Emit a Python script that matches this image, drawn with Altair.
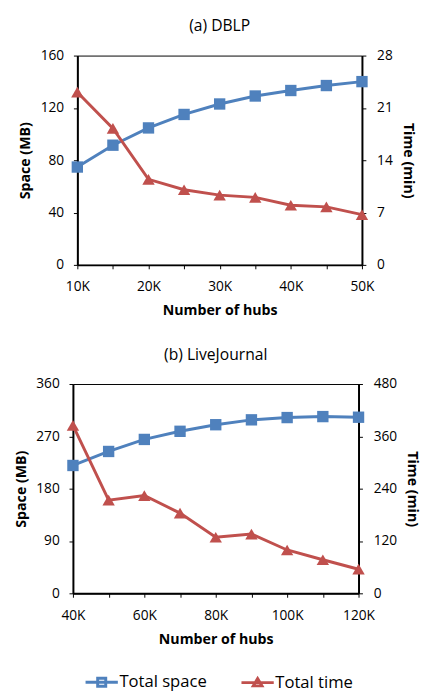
import altair as alt
import pandas as pd

BLUE = "#4F81BD"
RED = "#C0504D"
FONT = "Open Sans"

series_names = ["Total space", "Total time"]

# (a) DBLP
hubs_a = [10000, 15000, 20000, 25000, 30000, 35000, 40000, 45000, 50000]
space_a = [74.8, 91.5, 104.7, 115.0, 123.0, 129.1, 133.3, 137.1, 140.1]
time_a = [23.1, 18.25, 11.45, 10.05, 9.33, 9.03, 7.98, 7.76, 6.72]

# (b) LiveJournal
hubs_b = [40000, 50000, 60000, 70000, 80000, 90000, 100000, 110000, 120000]
space_b = [219.9, 244.0, 264.7, 278.7, 290.0, 298.4, 302.3, 304.0, 302.9]
time_b = [385, 213.8, 224.3, 184, 128.6, 136, 99.4, 77, 55.3]

SQ_PATH = "M-3,0H3M-0.75,-0.75H0.75V0.75H-0.75Z"
TRI_PATH = "M-3,0H3M0,-0.75L0.8,0.6H-0.8Z"


def panel(title, hubs, space, time, xstep, xlabel_every, space_max, space_step,
          time_max, time_step, title_offset, width, extra=None):
    df = pd.DataFrame({"hubs": hubs, "space": space, "time": time})
    xvals = list(range(hubs[0], hubs[-1] + 1, xstep))
    label_expr = (
        f"datum.value % {xlabel_every} == 0 ? "
        "format(datum.value / 1000, 'd') + 'K' : ''"
    )
    x = alt.X(
        "hubs:Q",
        scale=alt.Scale(domain=[hubs[0], hubs[-1]], nice=False, zero=False),
        axis=alt.Axis(values=xvals, labelExpr=label_expr, title="Number of hubs",
                      labelFlush=False, labelOverlap=False),
    )
    base = alt.Chart(df).encode(x=x)
    ys = alt.Y(
        "space:Q",
        scale=alt.Scale(domain=[0, space_max], nice=False),
        axis=alt.Axis(values=list(range(0, space_max + 1, space_step)),
                      title="Space (MB)", orient="left"),
    )
    yt = alt.Y(
        "time:Q",
        scale=alt.Scale(domain=[0, time_max], nice=False),
        axis=alt.Axis(values=list(range(0, time_max + 1, time_step)),
                      title="Time (min)", orient="right"),
    )
    left = alt.layer(
        base.mark_line(color=BLUE, strokeWidth=3).encode(y=ys),
        base.mark_point(shape="square", filled=True, size=135, color=BLUE,
                        opacity=1).encode(y=ys),
    )
    right = alt.layer(
        base.mark_line(color=RED, strokeWidth=3).encode(y=yt),
        base.mark_point(shape="triangle-up", filled=True, size=160, color=RED,
                        opacity=1).encode(y=yt),
    )
    layers = [left, right]
    if extra is not None:
        layers.append(extra)
    return (
        alt.layer(*layers)
        .resolve_scale(y="independent")
        .properties(width=width, height=214,
                    title=alt.TitleParams(title, fontSize=16, font=FONT,
                                          fontWeight="normal", color="black",
                                          offset=title_offset))
    )


legend_df = pd.DataFrame({"series": series_names})
leg_scale_c = alt.Scale(domain=series_names, range=[BLUE, RED])
legend_layer = (
    alt.Chart(legend_df)
    .mark_point(filled=True, opacity=0, size=121, strokeWidth=3)
    .encode(
        color=alt.Color("series:N", scale=leg_scale_c, title=None),
        stroke=alt.Stroke("series:N", scale=leg_scale_c, title=None),
        shape=alt.Shape("series:N",
                        scale=alt.Scale(domain=series_names,
                                        range=[SQ_PATH, TRI_PATH]),
                        title=None),
    )
)

chart_a = panel("(a) DBLP", hubs_a, space_a, time_a, 5000, 10000,
                160, 40, 28, 7, 15.3, 291)
chart_b = panel("(b) LiveJournal", hubs_b, space_b, time_b, 10000, 20000,
                360, 90, 480, 120, 14.9, 292, extra=legend_layer)

chart = (
    alt.vconcat(chart_a, chart_b, spacing=27.8, center=True)
    .properties(padding={"left": 5.3, "top": 1.9, "right": 3, "bottom": 0})
    .configure_view(stroke="black", strokeWidth=1)
    .configure_axis(
        grid=False,
        domainColor="black", domainWidth=2,
        tickColor="black", tickWidth=1, tickSize=4,
        labelFont=FONT, labelFontSize=14, labelColor="black",
        titleFont=FONT, titleFontSize=14.5, titleFontWeight="bold",
        titleColor="black",
    )
    .configure_axisX(labelPadding=11.7, titlePadding=10.5)
    .configure_axisLeft(labelPadding=10, titlePadding=7.5)
    .configure_axisRight(labelPadding=11, titlePadding=8.3)
    .configure_legend(
        orient="none", legendX=21, legendY=632,
        direction="horizontal",
        labelFont=FONT, labelFontSize=17, labelColor="black",
        symbolSize=121, symbolStrokeWidth=3, symbolOffset=0,
        labelOffset=9.6, columnPadding=28.4,
    )
)

chart.save("out.html", embed_options={"renderer": "svg", "actions": False})
